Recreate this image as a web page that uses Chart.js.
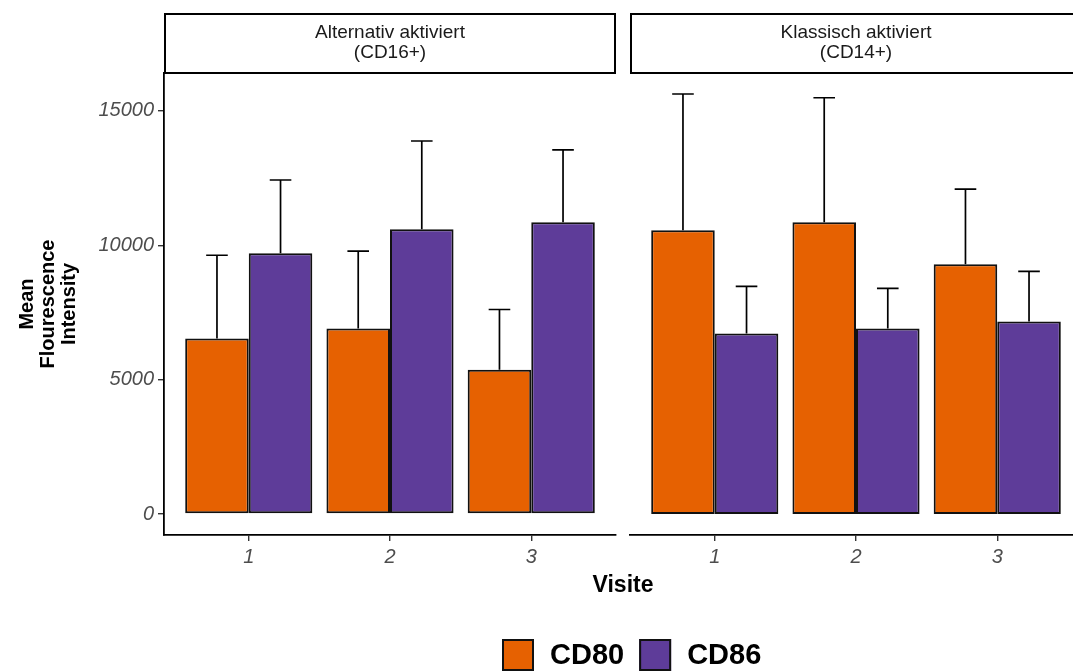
<!DOCTYPE html>
<html>
<head>
<meta charset="utf-8">
<script src="https://cdn.jsdelivr.net/npm/chart.js@4.4.1/dist/chart.umd.min.js"></script>
<style>
  html, body { margin: 0; padding: 0; background: #fff; overflow: hidden; }
  #wrap { position: relative; width: 1073px; height: 672px; overflow: hidden; background: #fff; }
  #wrap canvas { position: absolute; left: 0; top: 0; }
</style>
</head>
<body>
<div id="wrap">
  <canvas id="panelLeft" width="1073" height="672"></canvas>
  <canvas id="panelRight" width="1100" height="672"></canvas>
</div>
<script>
// Visits on the x axis, facet titles, series names and y ticks
const visits = ['1', '2', '3'];
const facetTitles = [['Alternativ aktiviert', '(CD16+)'], ['Klassisch aktiviert', '(CD14+)']];
const seriesNames = ['CD80', 'CD86'];
const seriesColors = ['#E66101', '#5E3C99'];
const yTicks = [0, 5000, 10000, 15000];

// Mean fluorescence intensity and standard deviation per visit
const altCD80 = [6530, 6900, 5370];
const altCD80Sd = [3100, 2880, 2240];
const altCD86 = [9700, 10600, 10860];
const altCD86Sd = [2730, 3280, 2690];
const klaCD80 = [10560, 10860, 9290];
const klaCD80Sd = [5070, 4630, 2800];
const klaCD86 = [6720, 6900, 7160];
const klaCD86Sd = [1750, 1500, 1870];

const FONT = "'Liberation Sans', Arial, sans-serif";

// Shared y range: 5% padding around 0 .. highest error bar
const highest = Math.max(
  ...altCD80.map((v, i) => v + altCD80Sd[i]),
  ...altCD86.map((v, i) => v + altCD86Sd[i]),
  ...klaCD80.map((v, i) => v + klaCD80Sd[i]),
  ...klaCD86.map((v, i) => v + klaCD86Sd[i])
);
const yMin = -0.05 * highest;
const yMax = 1.05 * highest;

function makeDataset(idx, means, sds) {
  return {
    label: seriesNames[idx],
    data: means.map((v, i) => ({ x: i + 1, y: v })),
    sd: sds,
    backgroundColor: seriesColors[idx],
    borderColor: '#111',
    borderWidth: 2,
    borderSkipped: false,
    categoryPercentage: 0.9,
    barPercentage: 1.0
  };
}

// Upper error bars from each bar top to mean + sd
const errorBars = {
  id: 'errorBars',
  afterDatasetsDraw(chart) {
    const ctx = chart.ctx;
    const yScale = chart.scales.y;
    chart.data.datasets.forEach((ds, di) => {
      const meta = chart.getDatasetMeta(di);
      meta.data.forEach((bar, i) => {
        const top = yScale.getPixelForValue(ds.data[i].y + ds.sd[i]);
        const half = bar.width * 0.17;
        ctx.save();
        ctx.strokeStyle = '#000';
        ctx.lineWidth = 1.7;
        ctx.beginPath();
        ctx.moveTo(bar.x, bar.y);
        ctx.lineTo(bar.x, top);
        ctx.moveTo(bar.x - half, top);
        ctx.lineTo(bar.x + half, top);
        ctx.stroke();
        ctx.restore();
      });
    });
  }
};

// Facet strip above each panel
const facetStrip = {
  id: 'facetStrip',
  afterDraw(chart, args, opts) {
    if (!opts || !opts.lines) return;
    const ctx = chart.ctx;
    const { left, right, top } = chart.chartArea;
    const stripTop = 14;
    ctx.save();
    ctx.strokeStyle = '#000';
    ctx.lineWidth = 2;
    ctx.strokeRect(left + 1, stripTop, right - left - 2, top - stripTop);
    ctx.fillStyle = '#1a1a1a';
    ctx.font = '19px ' + FONT;
    ctx.textAlign = 'center';
    ctx.textBaseline = 'middle';
    const cx = (left + right) / 2;
    ctx.fillText(opts.lines[0], cx, 33);
    ctx.fillText(opts.lines[1], cx, 53);
    ctx.restore();
  }
};

// Shared x title and legend below both panels
const sharedLabels = {
  id: 'sharedLabels',
  afterDraw(chart, args, opts) {
    if (!opts || !opts.enabled) return;
    const ctx = chart.ctx;
    ctx.save();
    ctx.fillStyle = '#000';
    ctx.font = 'bold 23px ' + FONT;
    ctx.textAlign = 'center';
    ctx.textBaseline = 'middle';
    ctx.fillText('Visite', opts.centerX, 586);

    ctx.font = 'bold 29px ' + FONT;
    const key = 32, gapKey = 16, gapItem = 15;
    const widths = seriesNames.map(n => ctx.measureText(n).width);
    let x = opts.legendLeft;
    const keyTop = 639;
    ctx.textAlign = 'left';
    seriesNames.forEach((name, i) => {
      ctx.fillStyle = seriesColors[i];
      ctx.fillRect(x, keyTop, key, key);
      ctx.strokeStyle = '#111';
      ctx.lineWidth = 2;
      ctx.strokeRect(x + 1, keyTop + 1, key - 2, key - 2);
      x += key + gapKey;
      ctx.fillStyle = '#000';
      ctx.fillText(name, x, keyTop + key / 2 + 1);
      x += widths[i] + gapItem;
    });
    ctx.restore();
  }
};

function xScale() {
  return {
    type: 'linear',
    min: 0.4,
    max: 3.6,
    offset: false,
    afterBuildTicks: s => { s.ticks = visits.map((v, i) => ({ value: i + 1 })); },
    afterFit: s => { s.height = 40; },
    border: { display: true, color: '#000', width: 1.8 },
    grid: { display: true, offset: false, drawOnChartArea: false, drawTicks: true, tickLength: 6, color: '#333', lineWidth: 1.4 },
    ticks: {
      callback: v => visits[Math.round(v) - 1],
      color: '#4d4d4d',
      padding: 4,
      maxRotation: 0,
      font: { family: FONT, size: 20, style: 'italic' }
    }
  };
}

function yScale(showAxis) {
  const s = {
    min: yMin,
    max: yMax,
    display: showAxis,
    afterBuildTicks: sc => { sc.ticks = yTicks.map(v => ({ value: v })); }
  };
  if (showAxis) {
    Object.assign(s, {
      afterFit: sc => { sc.width = 164; },
      border: { display: true, color: '#000', width: 1.8 },
      grid: { display: true, drawOnChartArea: false, drawTicks: true, tickLength: 6, color: '#333', lineWidth: 1.4 },
      ticks: {
        callback: v => String(v),
        color: '#4d4d4d',
        padding: 4,
        font: { family: FONT, size: 20, style: 'italic' }
      },
      title: {
        display: true,
        text: ['Mean', 'Flourescence', 'Intensity'],
        color: '#000',
        font: { family: FONT, size: 20, weight: 'bold', lineHeight: 1.05 },
        padding: { top: 17, bottom: 0 }
      }
    });
  }
  return s;
}

function makeChart(canvasId, datasets, strip, showYAxis, padding, shared) {
  return new Chart(document.getElementById(canvasId), {
    type: 'bar',
    data: { datasets },
    options: {
      responsive: false,
      animation: false,
      devicePixelRatio: 1,
      layout: { padding },
      scales: { x: xScale(), y: yScale(showYAxis) },
      plugins: {
        legend: { display: false },
        tooltip: { enabled: false },
        facetStrip: { lines: strip },
        sharedLabels: shared
      }
    },
    plugins: [errorBars, facetStrip, sharedLabels]
  });
}

makeChart('panelLeft',
  [makeDataset(0, altCD80, altCD80Sd), makeDataset(1, altCD86, altCD86Sd)],
  facetTitles[0], true,
  { top: 73, left: 0, right: 1073 - 616, bottom: 97 },
  { enabled: true, centerX: 623, legendLeft: 502 });

makeChart('panelRight',
  [makeDataset(0, klaCD80, klaCD80Sd), makeDataset(1, klaCD86, klaCD86Sd)],
  facetTitles[1], false,
  { top: 73, left: 630, right: 1100 - 1082, bottom: 97 },
  { enabled: false });
</script>
</body>
</html>
